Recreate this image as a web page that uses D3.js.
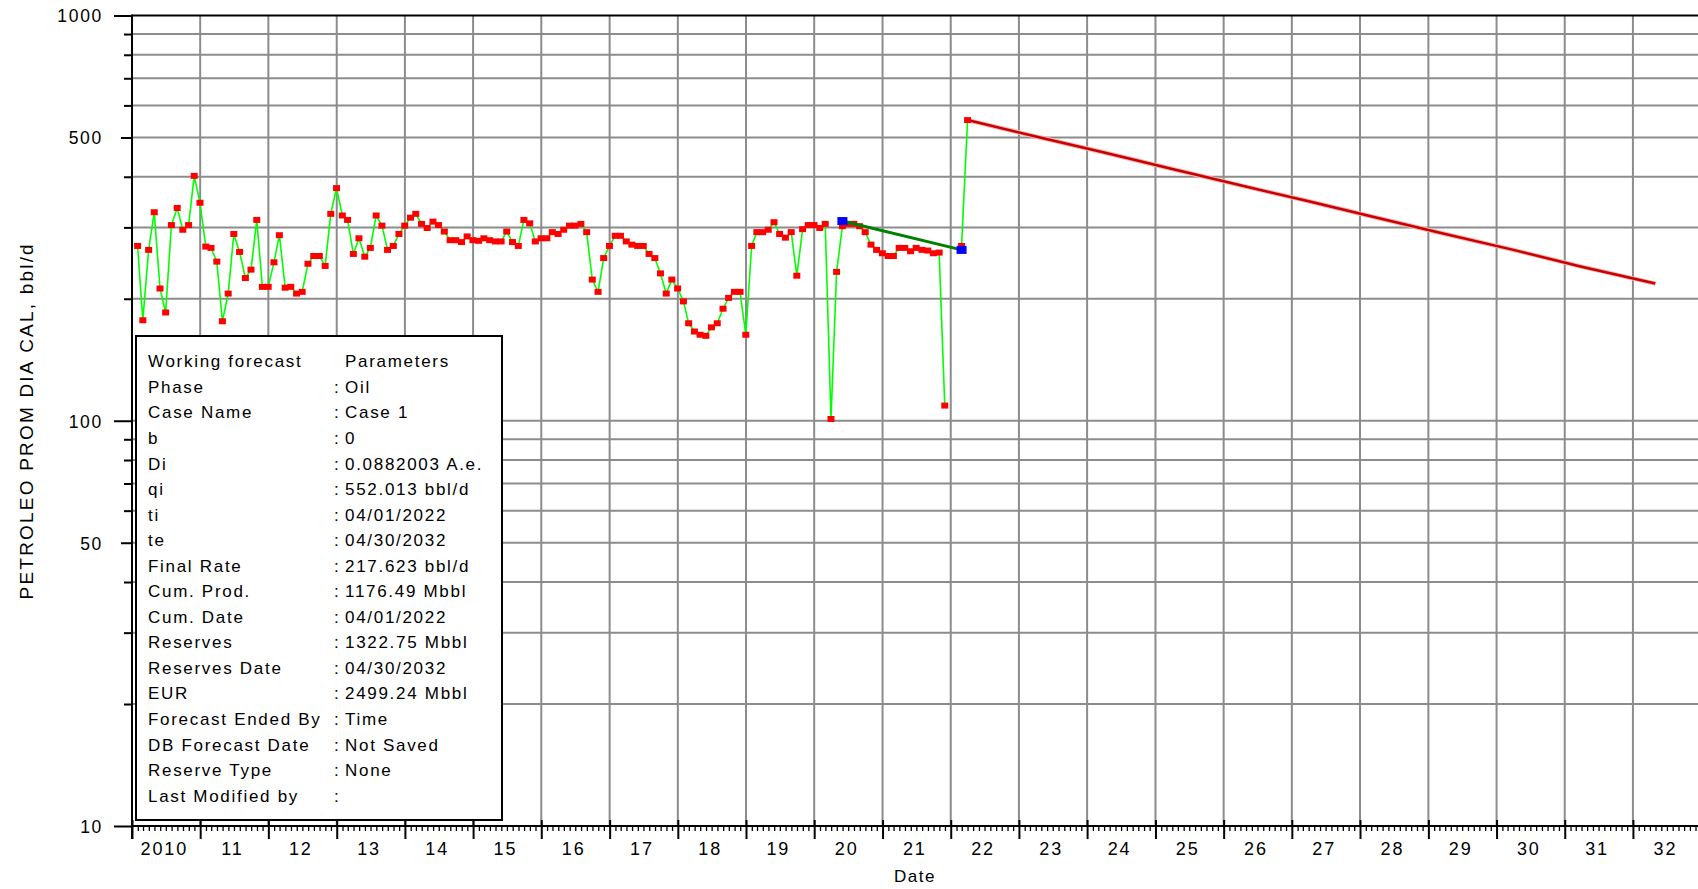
<!DOCTYPE html>
<html>
<head>
<meta charset="utf-8">
<script src="https://cdn.jsdelivr.net/npm/d3@7"></script>
<style>
  body { margin: 0; background: #fff; }
  text { font-family: "Liberation Sans", Arial, sans-serif; fill: #000; }
</style>
</head>
<body>
<div class="chart"></div>
<script>
// monthly oil rate (bbl/d), one value per month starting Jan 2010, null = no data
const histStartYear = 2010;
const histRate = [
  270, 177, 264, 327, 212, 185, 304, 335, 296, 304, 402, 345,
  269, 267, 247, 176, 206, 289, 261, 225, 236, 313, 214, 214,
  246, 287, 213, 214, 206, 208, 244, 255, 255, 241, 324, 375,
  321, 313, 258, 282, 254, 267, 321, 303, 264, 270, 289, 303,
  317, 324, 306, 299, 310, 304, 293, 279, 279, 276, 285, 279,
  278, 282, 279, 277, 277, 293, 276, 270, 313, 307, 277, 282,
  282, 292, 289, 296, 303, 303, 306, 292, 223, 208, 252, 270,
  286, 286, 277, 272, 270, 270, 258, 252, 231, 206, 223, 212,
  197, 174, 166, 163, 162, 170, 174, 189, 201, 208, 208, 163,
  270, 292, 292, 296, 309, 289, 283, 292, 228, 297, 304, 304,
  299, 306, 101, 233, 302, 306, 306, 302, 292, 272, 264, 259,
  255, 255, 267, 267, 262, 267, 264, 263, 259, 260, 109, null,
  null, 270
];

// fitted segment (blue end points)
const fitDates = ["2020-05-31", "2022-02-28"];
const fitRate = [311, 264];

// exponential forecast
const fcDates = ["2022-04-01", "2023-04-01", "2024-04-01", "2025-04-01", "2026-04-01",
  "2027-04-01", "2028-04-01", "2029-04-01", "2030-04-01", "2031-04-01", "2032-04-30"];
const fcRate = [552, 503, 459, 418, 381, 348, 317, 289, 264, 240, 218];

const yearLabels = ["2010", "11", "12", "13", "14", "15", "16", "17", "18", "19", "20",
  "21", "22", "23", "24", "25", "26", "27", "28", "29", "30", "31", "32"];
const yTickLabels = [10, 50, 100, 500, 1000];

const legendRows = [
  ["Working forecast", "", "Parameters"],
  ["Phase", ":", "Oil"],
  ["Case Name", ":", "Case 1"],
  ["b", ":", "0"],
  ["Di", ":", "0.0882003 A.e."],
  ["qi", ":", "552.013 bbl/d"],
  ["ti", ":", "04/01/2022"],
  ["te", ":", "04/30/2032"],
  ["Final Rate", ":", "217.623 bbl/d"],
  ["Cum. Prod.", ":", "1176.49 Mbbl"],
  ["Cum. Date", ":", "04/01/2022"],
  ["Reserves", ":", "1322.75 Mbbl"],
  ["Reserves Date", ":", "04/30/2032"],
  ["EUR", ":", "2499.24 Mbbl"],
  ["Forecast Ended By", ":", "Time"],
  ["DB Forecast Date", ":", "Not Saved"],
  ["Reserve Type", ":", "None"],
  ["Last Modified by", ":", ""]
];

const width = 1698, height = 889;
const plotLeft = 132, plotTop = 15.5, plotBottom = 826;
const parse = d3.timeParse("%Y-%m-%d");

const svg = d3.select(".chart").append("svg")
    .attr("width", width)
    .attr("height", height);

const x = d3.scaleTime()
    .domain([new Date(2010, 0, 1), new Date(2033, 0, 1)])
    .range([plotLeft, plotLeft + 23 * 68.23]);
const y = d3.scaleLog()
    .domain([10, 1000])
    .range([plotBottom, plotTop]);

// all the 1-2-..-9 values for the log grid
const logVals = [];
[10, 100].forEach(function(d) {
    for (let k = 1; k <= 9; k++) logVals.push(d * k);
});
logVals.push(1000);

// grid
const grid = svg.append("g").attr("stroke", "#8c8c8c").attr("stroke-width", 2);
grid.selectAll(".hg")
    .data(logVals.filter(v => v > 10 && v < 1000))
    .enter().append("line")
    .attr("x1", plotLeft).attr("x2", width)
    .attr("y1", d => y(d)).attr("y2", d => y(d));
grid.selectAll(".vg")
    .data(d3.range(2011, 2033).map(yr => new Date(yr, 0, 1)))
    .enter().append("line")
    .attr("x1", d => x(d)).attr("x2", d => x(d))
    .attr("y1", plotTop).attr("y2", plotBottom);

// historical data
const hist = histRate.map(function(v, i) {
    return {date: new Date(histStartYear, i + 1, 0), v: v};
});
const fc = fcDates.map((d, i) => ({date: parse(d), v: fcRate[i]}));
const fit = fitDates.map((d, i) => ({date: parse(d), v: fitRate[i]}));

const line = d3.line()
    .defined(d => d.v != null)
    .x(d => x(d.date))
    .y(d => y(d.v));

svg.append("path")
    .datum(hist.concat([fc[0]]))
    .attr("fill", "none")
    .attr("stroke", "#00ff00")
    .attr("stroke-width", 1.6)
    .attr("d", line);

svg.selectAll(".pt")
    .data(hist.filter(d => d.v != null))
    .enter().append("rect")
    .attr("x", d => x(d.date) - 3.5)
    .attr("y", d => y(d.v) - 3)
    .attr("width", 7)
    .attr("height", 6)
    .attr("fill", "#ff0000");

// fitted segment
svg.append("path")
    .datum(fit)
    .attr("fill", "none")
    .attr("stroke", "#008000")
    .attr("stroke-width", 3)
    .attr("d", line);
svg.selectAll(".fitpt")
    .data(fit)
    .enter().append("rect")
    .attr("x", d => x(d.date) - 5)
    .attr("y", d => y(d.v) - 4)
    .attr("width", 10)
    .attr("height", 8)
    .attr("fill", "#0000ff");

// forecast
svg.append("path")
    .datum(fc)
    .attr("fill", "none")
    .attr("stroke", "#f4b4b4")
    .attr("stroke-width", 4.5)
    .attr("d", line);
svg.append("path")
    .datum(fc)
    .attr("fill", "none")
    .attr("stroke", "#c80000")
    .attr("stroke-width", 2.5)
    .attr("d", line);
svg.append("rect")
    .attr("x", x(fc[0].date) - 3.5)
    .attr("y", y(fc[0].v) - 3)
    .attr("width", 7)
    .attr("height", 6)
    .attr("fill", "#ff0000");

// y axis
const yAxis = svg.append("g")
    .attr("transform", "translate(" + plotLeft + ",0)")
    .call(d3.axisLeft(y)
        .tickValues(logVals)
        .tickSize(8)
        .tickFormat(v => yTickLabels.includes(v) ? v : ""));
yAxis.select(".domain").remove();
yAxis.selectAll(".tick line")
    .attr("stroke", "#000")
    .attr("stroke-width", 2)
    .attr("x2", v => (v === 10 || v === 100 || v === 1000) ? -18 : (v === 50 || v === 500) ? -11 : -8);
yAxis.selectAll(".tick text")
    .attr("x", -29)
    .attr("dy", "0.36em")
    .style("font-size", "17.5px")
    .style("letter-spacing", "1.7px");

// x axis
const xAxis = svg.append("g")
    .attr("transform", "translate(0," + plotBottom + ")")
    .call(d3.axisBottom(x)
        .ticks(d3.timeMonth.every(1))
        .tickSize(5)
        .tickFormat(""));
xAxis.select(".domain").remove();
xAxis.selectAll(".tick line")
    .attr("stroke", "#000")
    .attr("y1", d => d.getMonth() === 0 ? -6 : 0)
    .attr("y2", d => d.getMonth() === 0 ? 13 : 5)
    .attr("stroke-width", d => d.getMonth() === 0 ? 2 : 1.3);

svg.selectAll(".yl")
    .data(yearLabels)
    .enter().append("text")
    .attr("x", (d, i) => x(new Date(2010 + i, 6, 1)) - 1.5)
    .attr("y", 855)
    .attr("text-anchor", "middle")
    .style("font-size", "18px")
    .style("letter-spacing", "1.9px")
    .text(d => d);

// frame lines
svg.append("line")
    .attr("x1", plotLeft).attr("x2", width)
    .attr("y1", plotBottom).attr("y2", plotBottom)
    .attr("stroke", "#000").attr("stroke-width", 2);
svg.append("line")
    .attr("x1", plotLeft).attr("x2", width)
    .attr("y1", plotTop).attr("y2", plotTop)
    .attr("stroke", "#000").attr("stroke-width", 2);
svg.append("line")
    .attr("x1", plotLeft).attr("x2", plotLeft)
    .attr("y1", plotTop - 1).attr("y2", plotBottom + 13)
    .attr("stroke", "#000").attr("stroke-width", 2);

// axis titles
svg.append("text")
    .attr("x", (plotLeft + width) / 2)
    .attr("y", 882)
    .attr("text-anchor", "middle")
    .style("font-size", "17px")
    .style("letter-spacing", "1.5px")
    .text("Date");
svg.append("text")
    .attr("transform", "translate(33," + ((plotTop + plotBottom) / 2) + ") rotate(-90)")
    .attr("text-anchor", "middle")
    .style("font-size", "19px")
    .style("letter-spacing", "2.2px")
    .text("PETROLEO PROM DIA CAL, bbl/d");

// legend box
const lg = svg.append("g");
lg.append("rect")
    .attr("x", 136).attr("y", 336)
    .attr("width", 366).attr("height", 484)
    .attr("fill", "#fff")
    .attr("stroke", "#000")
    .attr("stroke-width", 2);
const rows = lg.selectAll(".row")
    .data(legendRows)
    .enter().append("g")
    .attr("transform", (d, i) => "translate(0," + (367.3 + i * 25.55) + ")")
    .style("font-size", "17px")
    .style("letter-spacing", "1.7px");
rows.append("text").attr("x", 148).text(d => d[0]);
rows.append("text").attr("x", 334).text(d => d[1]);
rows.append("text").attr("x", 345).text(d => d[2]);
</script>
</body>
</html>
